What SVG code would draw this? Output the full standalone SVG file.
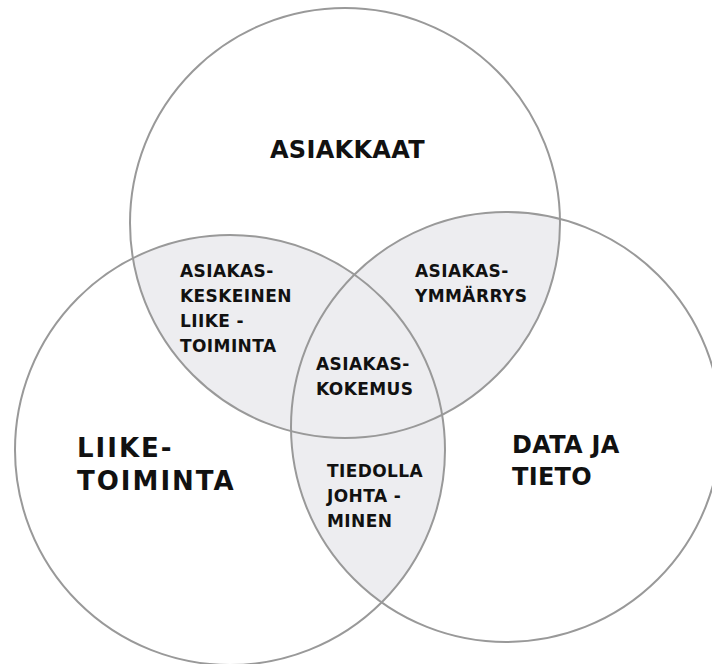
<svg xmlns="http://www.w3.org/2000/svg" width="712" height="664" viewBox="0 0 712 664">
<style>
.c{fill:none;stroke:#999999;stroke-width:2}
.ov{fill:#ededf0}
.big{font-family:"DejaVu Sans",sans-serif;font-weight:bold;font-size:24px;fill:#111;letter-spacing:0.3px}
.lt{font-size:26px;letter-spacing:2px}
.sm{font-family:"DejaVu Sans",sans-serif;font-weight:bold;font-size:17px;fill:#111;letter-spacing:0.4px}
</style>
<defs>
<clipPath id="cTop"><circle cx="345" cy="223" r="215"/></clipPath>
<clipPath id="cLeft"><circle cx="230" cy="450" r="215"/></clipPath>
<clipPath id="cRight"><circle cx="506" cy="427" r="215"/></clipPath>
</defs>
<rect width="712" height="664" fill="#ffffff"/>
<g id="overlaps">
<circle class="ov" cx="230" cy="450" r="215" clip-path="url(#cTop)"/>
<circle class="ov" cx="506" cy="427" r="215" clip-path="url(#cTop)"/>
<circle class="ov" cx="506" cy="427" r="215" clip-path="url(#cLeft)"/>
</g>
<g id="asiakkaat">
<circle class="c" cx="345" cy="223" r="215"/>
<text class="big" x="270" y="158">ASIAKKAAT</text>
</g>
<g id="liiketoiminta">
<circle class="c" cx="230" cy="450" r="215"/>
<text class="big lt" x="77" y="457">LIIKE-</text>
<text class="big lt" x="77" y="490">TOIMINTA</text>
</g>
<g id="datajatieto">
<circle class="c" cx="506" cy="427" r="215"/>
<text class="big" x="512" y="453">DATA JA</text>
<text class="big" x="512" y="485">TIETO</text>
</g>
<g id="asiakaskeskeinen">
<text class="sm" x="180" y="277">ASIAKAS-</text>
<text class="sm" x="180" y="302">KESKEINEN</text>
<text class="sm" x="180" y="327">LIIKE -</text>
<text class="sm" x="180" y="352">TOIMINTA</text>
</g>
<g id="asiakasymmarrys">
<text class="sm" x="415" y="277">ASIAKAS-</text>
<text class="sm" x="415" y="302">YMMÄRRYS</text>
</g>
<g id="asiakaskokemus">
<text class="sm" x="316" y="370">ASIAKAS-</text>
<text class="sm" x="316" y="395">KOKEMUS</text>
</g>
<g id="tiedollajohtaminen">
<text class="sm" x="327" y="477">TIEDOLLA</text>
<text class="sm" x="327" y="502">JOHTA -</text>
<text class="sm" x="327" y="527">MINEN</text>
</g>
<g id="connectors"></g>
</svg>
